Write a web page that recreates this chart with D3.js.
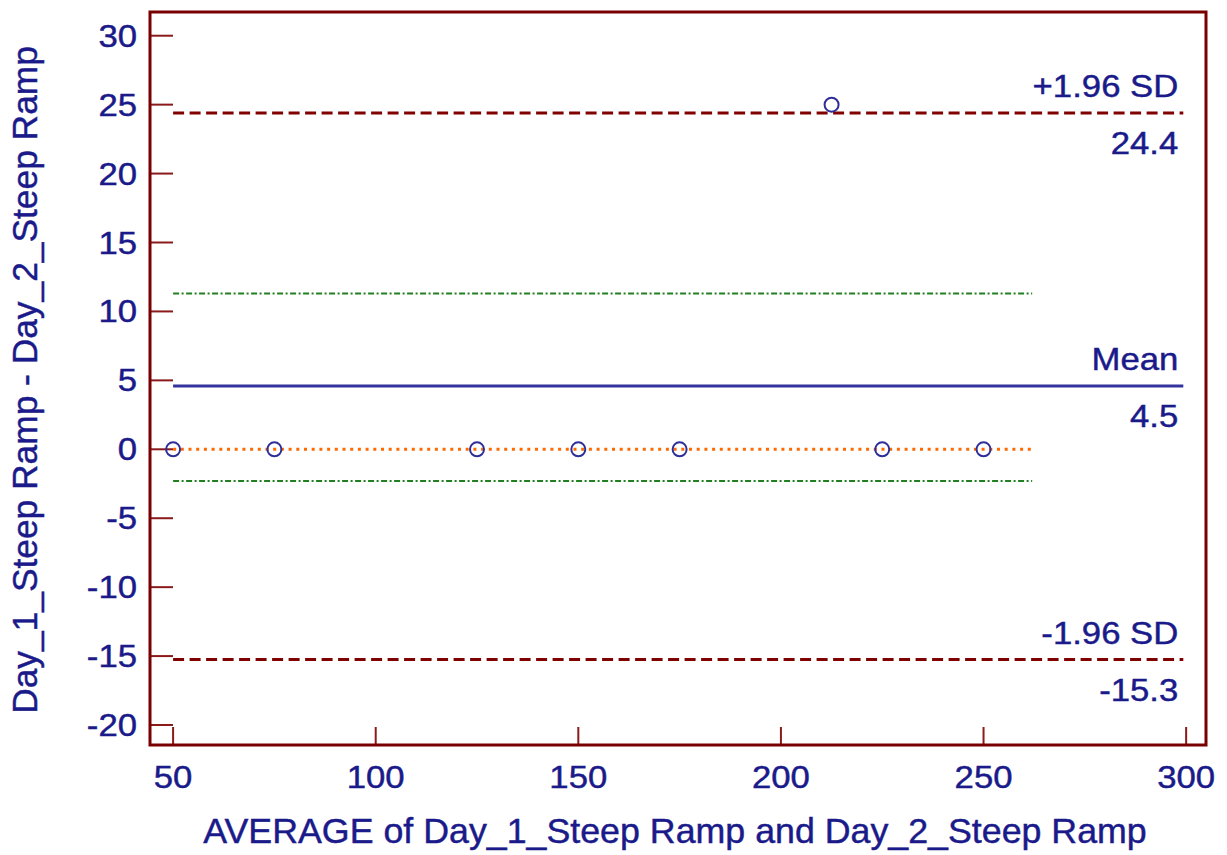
<!DOCTYPE html>
<html>
<head>
<meta charset="utf-8">
<script src="https://cdn.jsdelivr.net/npm/d3@7"></script>
<style>
  html, body { margin: 0; padding: 0; background: #fff; }
  svg { display: block; font-family: "Liberation Sans", Arial, sans-serif; }
</style>
</head>
<body>
<svg id="chart" width="1227" height="855"></svg>
<script>
// Bland-Altman data
const avgValues  = [50, 75, 125, 150, 175, 212.5, 225, 250];
const diffValues = [0, 0, 0, 0, 0, 25, 0, 0];

const xTicks = [50, 100, 150, 200, 250, 300];
const yTicks = [-20, -15, -10, -5, 0, 5, 10, 15, 20, 25, 30];

// reference lines: limits of agreement + mean
const refNames  = ['+1.96 SD', 'Mean', '-1.96 SD'];
const refValues = [24.4, 4.6, -15.25];
const refLabels = ['24.4', '4.5', '-15.3'];
const ciValues  = [11.3, -2.3];     // green dash-dot lines
const zeroValue = 0;

const TXT = '#1a1a8a', FRAME = '#7a0000';

const svg = d3.select('#chart');
const x = d3.scaleLinear().domain([44.3, 304.9]).range([150, 1206]);
const y = d3.scaleLinear().domain([-21.45, 31.72]).range([745, 12]);
const [x0, x1] = x.range(), [y0, y1] = y.range();

// wide-ish text, the original font runs broader than Arial
function txt(g, px, py, s, anchor, size, sx) {
  return g.append('text')
    .attr('transform', `translate(${px},${py}) scale(${sx},1)`)
    .attr('text-anchor', anchor).attr('font-size', size)
    .attr('fill', TXT).attr('stroke', TXT).attr('stroke-width', 0.45)
    .text(s);
}

const g = svg.append('g');

// ticks (inside the frame)
g.append('g').selectAll('line').data(yTicks).join('line')
  .attr('x1', x0).attr('x2', x0 + 23)
  .attr('y1', d => y(d)).attr('y2', d => y(d))
  .attr('stroke', '#8b1a1a').attr('stroke-width', 2);
g.append('g').selectAll('line').data(xTicks).join('line')
  .attr('x1', d => x(d)).attr('x2', d => x(d))
  .attr('y1', y0).attr('y2', y0 - 18)
  .attr('stroke', '#8b1a1a').attr('stroke-width', 2);

// CI lines
g.append('g').selectAll('line').data(ciValues).join('line')
  .attr('x1', x(50)).attr('x2', x(262))
  .attr('y1', d => y(d)).attr('y2', d => y(d))
  .attr('stroke', '#217f21').attr('stroke-width', 2)
  .attr('stroke-dasharray', '6,2.5,2,2.5');

// zero line
g.append('line')
  .attr('x1', x(50)).attr('x2', x(262))
  .attr('y1', y(zeroValue)).attr('y2', y(zeroValue))
  .attr('stroke', '#ff6a00').attr('stroke-width', 3)
  .attr('stroke-dasharray', '3,4.7');

// mean + limits of agreement
g.append('g').selectAll('line').data(refValues).join('line')
  .attr('x1', x(50)).attr('x2', x(299.3))
  .attr('y1', d => y(d)).attr('y2', d => y(d))
  .attr('stroke', (d, i) => i === 1 ? '#33339f' : '#800000')
  .attr('stroke-width', 3)
  .attr('stroke-dasharray', (d, i) => i === 1 ? null : '11,5.5');

// points
g.append('g').selectAll('circle').data(avgValues).join('circle')
  .attr('cx', d => x(d)).attr('cy', (d, i) => y(diffValues[i]))
  .attr('r', 7).attr('fill', 'none')
  .attr('stroke', '#2e2e98').attr('stroke-width', 2);

// frame
g.append('rect').attr('x', x0).attr('y', y1)
  .attr('width', x1 - x0).attr('height', y0 - y1)
  .attr('fill', 'none').attr('stroke', FRAME).attr('stroke-width', 3);

// tick labels
yTicks.forEach(t => txt(g, x0 - 13, y(t) + 11, t, 'end', 31, 1.12));
xTicks.forEach(t => txt(g, x(t), 788, t, 'middle', 31, 1.12));

// line labels
refValues.forEach((v, i) => {
  txt(g, x(299.3) - 5, y(v) - 16, refNames[i], 'end', 31, 1.12);
  txt(g, x(299.3) - 5, y(v) + 41, refLabels[i], 'end', 31, 1.12);
});

// axis titles
txt(g, 675, 843, 'AVERAGE of Day_1_Steep Ramp and Day_2_Steep Ramp', 'middle', 35, 1.022);
g.append('text')
  .attr('transform', `translate(37,380) rotate(-90) scale(1.01,1)`)
  .attr('text-anchor', 'middle').attr('font-size', 35)
  .attr('fill', TXT).attr('stroke', TXT).attr('stroke-width', 0.45)
  .text('Day_1_Steep Ramp - Day_2_Steep Ramp');
</script>
</body>
</html>
